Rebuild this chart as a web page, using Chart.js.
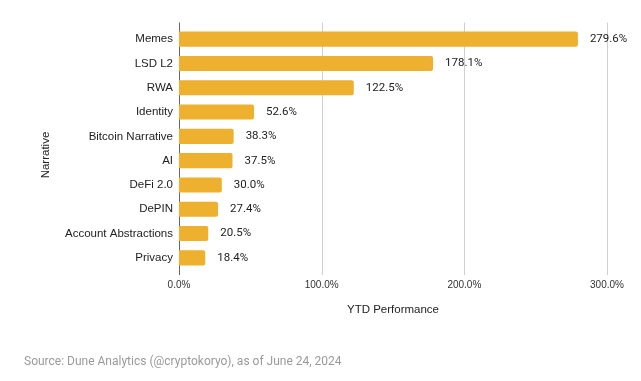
<!DOCTYPE html>
<html>
<head>
<meta charset="utf-8">
<script src="https://cdn.jsdelivr.net/npm/chart.js@4/dist/chart.umd.min.js"></script>
<style>
html,body{margin:0;padding:0;background:#fff;}
#wrap{width:641px;height:381px;position:relative;}
</style>
</head>
<body>
<div id="wrap"><canvas id="c" width="641" height="381"></canvas></div>
<script>
const categories = ["Memes","LSD L2","RWA","Identity","Bitcoin Narrative","AI","DeFi 2.0","DePIN","Account Abstractions","Privacy"];
const ytdPerformance = [279.6,178.1,122.5,52.6,38.3,37.5,30.0,27.4,20.5,18.4];
const xTickValues = [0,100,200,300];
const xAxisTitle = "YTD Performance";
const yAxisTitle = "Narrative";
const sourceNote = "Source: Dune Analytics (@cryptokoryo), as of June 24, 2024";

const BAR = "#EDB02F";
const GRID = "#cfcfcf";
const AXIS = "#666666";

const extras = {
  id: 'extras',
  beforeDatasetsDraw(chart) {
    const ctx = chart.ctx, a = chart.chartArea, xs = chart.scales.x;
    ctx.save();
    ctx.lineWidth = 1;
    xTickValues.forEach(v => {
      const px = Math.round(xs.getPixelForValue(v)) + 0.5;
      ctx.strokeStyle = v === 0 ? AXIS : GRID;
      ctx.beginPath();
      ctx.moveTo(px, a.top - 4.5);
      ctx.lineTo(px, a.bottom + 5);
      ctx.stroke();
    });
    ctx.restore();
  },
  afterDatasetsDraw(chart) {
    const ctx = chart.ctx, a = chart.chartArea;
    const meta = chart.getDatasetMeta(0);
    ctx.save();
    ctx.font = "11.5px Roboto, 'Liberation Sans', Arial, sans-serif";
    ctx.fillStyle = "#222";
    ctx.textBaseline = "middle";
    ctx.textAlign = "left";
    meta.data.forEach((el, i) => {
      ctx.fillText(ytdPerformance[i].toFixed(1) + "%", el.x + 12, el.y);
    });
    // axis titles
    ctx.font = "11.5px 'Liberation Sans', Arial, sans-serif";
    ctx.textAlign = "center";
    ctx.fillText(xAxisTitle, (a.left + a.right) / 2, 310);
    ctx.save();
    ctx.translate(46, 155);
    ctx.rotate(-Math.PI / 2);
    ctx.fillText(yAxisTitle, 0, 0);
    ctx.restore();
    // source
    ctx.font = "12px Roboto, 'Liberation Sans', Arial, sans-serif";
    ctx.fillStyle = "#9a9a9a";
    ctx.textAlign = "left";
    ctx.fillText(sourceNote, 24, 362);
    ctx.restore();
  }
};

new Chart(document.getElementById('c'), {
  type: 'bar',
  data: {
    labels: categories,
    datasets: [{
      data: ytdPerformance,
      backgroundColor: BAR,
      borderRadius: 2,
      borderSkipped: 'start',
      categoryPercentage: 1,
      barPercentage: 0.62
    }]
  },
  options: {
    indexAxis: 'y',
    responsive: false,
    animation: false,
    devicePixelRatio: 1,
    layout: { padding: { top: 27, right: 34, left: 0, bottom: 0 } },
    plugins: { legend: { display: false }, tooltip: { enabled: false }, title: { display: false } },
    scales: {
      x: {
        min: 0, max: 300,
        afterFit(s) { s.height = 111; },
        afterBuildTicks(s) { s.ticks = xTickValues.map(v => ({ value: v })); },
        grid: { display: false, tickLength: 5, drawTicks: false },
        border: { display: false },
        ticks: {
          padding: 9,
          color: "#333",
          font: { size: 10, family: "'Liberation Sans', Arial, sans-serif" },
          callback: v => Number(v).toFixed(1) + "%"
        }
      },
      y: {
        afterFit(s) { s.width = 179; },
        grid: { display: false, drawTicks: false, tickLength: 0 },
        border: { display: false },
        ticks: {
          padding: 6,
          color: "#222",
          font: { size: 11.5, family: "'Liberation Sans', Arial, sans-serif" }
        }
      }
    }
  },
  plugins: [extras]
});
</script>
</body>
</html>
